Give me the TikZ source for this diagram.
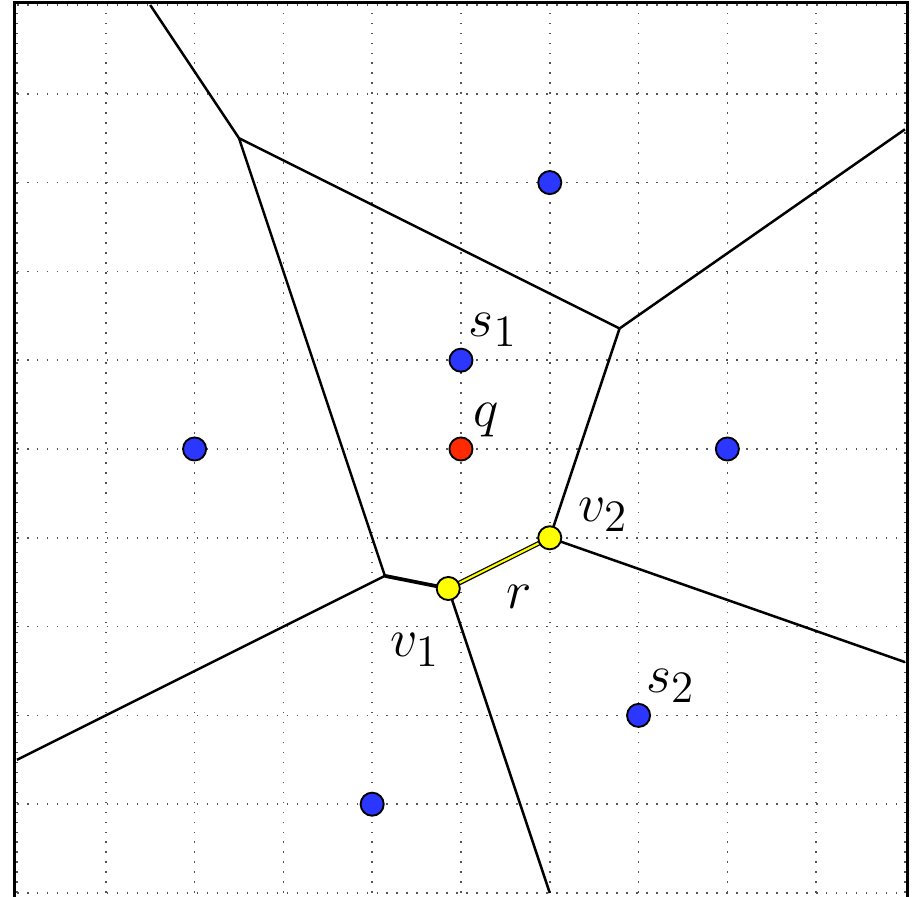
\documentclass[tikz,border=0pt]{standalone}
\usepackage{xcolor}
\usepackage{tikz}
\usetikzlibrary{positioning}
\definecolor{siteblue}{HTML}{2B36FF}
\definecolor{queryred}{HTML}{FF2A00}
\definecolor{vertyellow}{HTML}{FFFF00}
\definecolor{gridgray}{HTML}{555555}
\tikzset{
  site/.style={
    circle, draw=black, fill=#1, line width=0.6pt,
    inner sep=0pt, minimum size=0.26cm,
  },
  gridline/.style={color=gridgray, line width=0.5pt, dash pattern=on 0.5pt off 2.7pt},
  vedge/.style={line width=0.8pt, color=black},
  lbl/.style={font=\fontsize{19}{22}\selectfont, inner sep=0pt},
}

\begin{document}
\begin{tikzpicture}[x=1cm, y=1cm]

  \useasboundingbox (-0.191,-0.034) rectangle (10.113,10.056);

  % grid and frame
  \draw[gridline] (0,0) grid (10,10);
  \draw[line width=1.1pt] (-0.03,-0.08) rectangle (10.03,10.025);

  % voronoi vertices and ends of the unbounded edges
  \coordinate (ta) at (2.5,8.5);
  \coordinate (tb) at (6.786,6.357);
  \coordinate (la) at (4.143,3.571);
  \coordinate (V1) at (4.857,3.429);
  \coordinate (V2) at (6,4);
  \coordinate (endtop) at (1.5,10);
  \coordinate (endur) at (10,8.6);
  \coordinate (endr) at (10,2.6);
  \coordinate (endl) at (0,1.5);
  \coordinate (endb) at (6,0);

  \draw[vedge] (endtop) -- (ta);
  \draw[vedge] (ta) -- (tb);
  \draw[vedge] (tb) -- (endur);
  \draw[vedge] (ta) -- (la);
  \draw[vedge] (tb) -- (V2);
  \draw[vedge] (V2) -- (endr);
  \draw[vedge] (la) -- (endl);
  \draw[vedge, line width=1.2pt] (la) -- (V1);
  \draw[vedge] (V1) -- (endb);

  % edge r
  \draw[line width=1.5pt, black] (V1) -- (V2);
  \draw[line width=0.7pt, vertyellow] (V1) -- (V2);

  % sites
  \node[site=siteblue] (s0) at (6,8) {};
  \node[site=siteblue] (s1) at (5,6) {};
  \node[site=siteblue] (sl) at (2,5) {};
  \node[site=siteblue] (sr) at (8,5) {};
  \node[site=siteblue] (s2) at (7,2) {};
  \node[site=siteblue] (sb) at (4,1) {};
  \node[site=queryred] (q) at (5,5) {};
  \node[site=vertyellow] (v1) at (V1) {};
  \node[site=vertyellow] (v2) at (V2) {};

  % labels
  \node[lbl] (s1lbl) at (5.36,6.34) {$s_1$};
  \node[lbl] (qlbl) at (5.28,5.33) {$q$};
  \node[lbl] (v2lbl) at (6.6,4.26) {$v_2$};
  \node[lbl] (v1lbl) at (4.48,2.74) {$v_1$};
  \node[lbl] (rlbl) at (5.66,3.33) {$r$};
  \node[lbl] (s2lbl) at (7.36,2.33) {$s_2$};

\end{tikzpicture}
\end{document}
